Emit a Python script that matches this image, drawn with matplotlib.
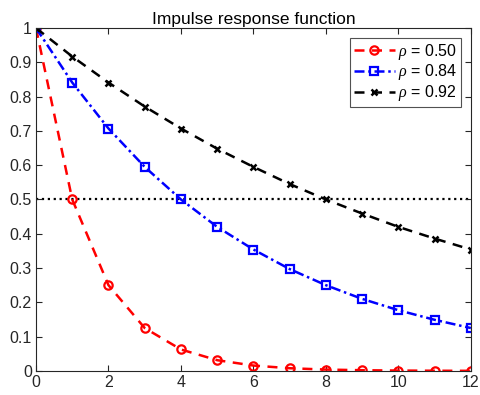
import matplotlib
matplotlib.use("Agg")
import matplotlib.pyplot as plt

plt.rcParams['font.family'] = ['Liberation Sans', 'DejaVu Sans']
plt.rcParams['mathtext.fontset'] = 'custom'
plt.rcParams['mathtext.it'] = 'Liberation Serif:italic'

t = [0, 1, 2, 3, 4, 5, 6, 7, 8, 9, 10, 11, 12]
red = [1.0, 0.5, 0.25, 0.125, 0.0625, 0.03125, 0.0156, 0.0078, 0.0039, 0.002, 0.001, 0.0005, 0.0002]
blue = [1.0, 0.841, 0.707, 0.595, 0.5, 0.420, 0.354, 0.297, 0.25, 0.210, 0.177, 0.149, 0.125]
black = [1.0, 0.917, 0.841, 0.771, 0.707, 0.648, 0.595, 0.545, 0.5, 0.459, 0.420, 0.386, 0.354]
labels = [r'$\rho$ = 0.50', r'$\rho$ = 0.84', r'$\rho$ = 0.92']
xticks = [0, 2, 4, 6, 8, 10, 12]
yticks = [0, 0.1, 0.2, 0.3, 0.4, 0.5, 0.6, 0.7, 0.8, 0.9, 1]

fig = plt.figure(figsize=(4.8, 3.95), dpi=100)
ax = fig.add_axes([0.075, 0.061, 0.906, 0.868])

ax.axhline(0.5, color='black', linestyle=':', linewidth=1.6, zorder=1)
ax.plot(t, red, color='red', linestyle=(0, (4, 3)), linewidth=1.8, marker='o',
        markersize=6, markerfacecolor='none', markeredgewidth=1.6, label=labels[0])
ax.plot(t, blue, color='blue', linestyle=(0, (4, 1.5, 1, 1.5)), linewidth=1.8, marker='s',
        markersize=5.5, markerfacecolor='none', markeredgewidth=1.6, label=labels[1])
ax.plot(t, black, color='black', linestyle=(0, (4, 3)), linewidth=1.8, marker='x',
        markersize=5, markeredgewidth=1.8, label=labels[2])

ax.set_xlim(0, 12)
ax.set_ylim(0, 1)
ax.set_xticks(xticks)
ax.set_xticklabels([str(v) for v in xticks])
ax.set_yticks(yticks)
ax.set_yticklabels(['0' if v == 0 else ('1' if v == 1 else f'{v:g}') for v in yticks])
ax.tick_params(direction='in', length=4, width=0.8, colors='#262626', labelsize=11.5,
               top=True, right=True, labelcolor='#262626', pad=3)
for s in ax.spines.values():
    s.set_color('#262626')
    s.set_linewidth(0.8)
ax.set_title('Impulse response function', fontsize=12.5, pad=3)

leg = ax.legend(loc='upper right', fontsize=11.5, frameon=True, fancybox=False,
                edgecolor='#262626', handlelength=2.6, handletextpad=0.2,
                borderpad=0.25, labelspacing=0.05, borderaxespad=0.6)
leg.get_frame().set_linewidth(0.8)

fig.savefig('out.png', dpi=100)
